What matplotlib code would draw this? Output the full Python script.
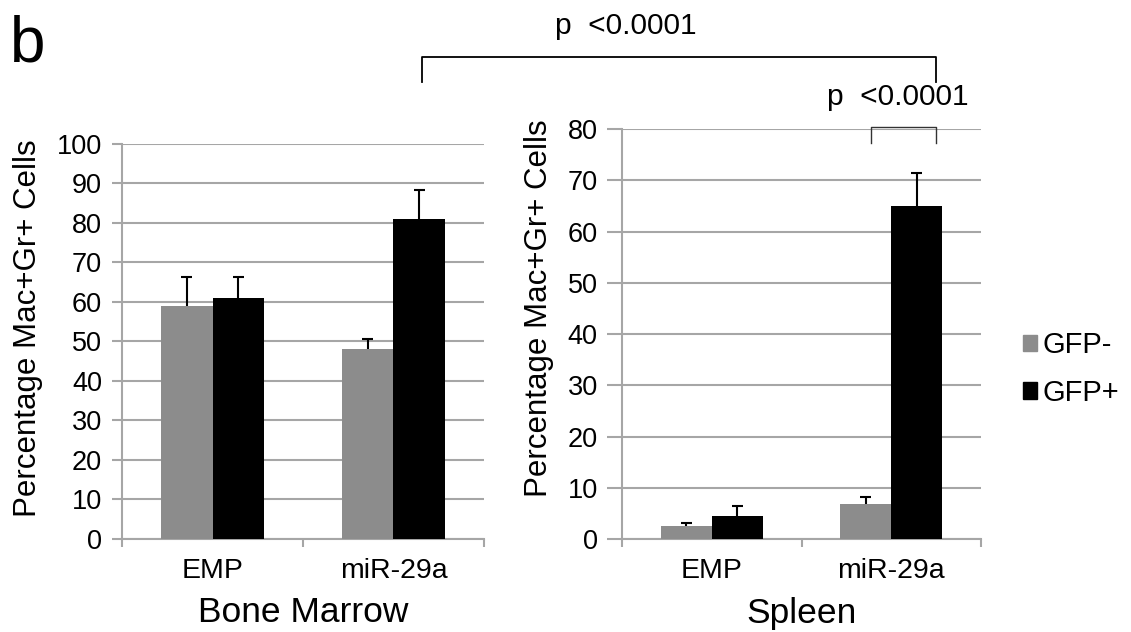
import matplotlib
matplotlib.use("Agg")
import matplotlib.pyplot as plt
from matplotlib.lines import Line2D
import numpy as np

plt.rcParams['font.family'] = ['Liberation Sans', 'DejaVu Sans']

categories = ["EMP", "miR-29a"]
series = ["GFP-", "GFP+"]
bm_gfp_neg = [59, 48]
bm_gfp_pos = [61, 81]
bm_err_neg = [7.2, 2.7]
bm_err_pos = [5.2, 7.3]
sp_gfp_neg = [2.6, 6.9]
sp_gfp_pos = [4.5, 65.0]
sp_err_neg = [0.5, 1.4]
sp_err_pos = [2.0, 6.4]
bm_yticks = list(range(0, 101, 10))
sp_yticks = list(range(0, 81, 10))
p_label = "p  <0.0001"

colors = ["#8c8c8c", "#000000"]
grid_c = "#a6a6a6"

fig = plt.figure(figsize=(11.31, 6.32), dpi=100)
ax1 = fig.add_axes([0.1079, 0.1472, 0.320, 0.625])
ax2 = fig.add_axes([0.5500, 0.1467, 0.3174, 0.649])

def panel(ax, neg, pos, eneg, epos, yticks, xlabel, ytick_len, ylab_xy):
    x = np.arange(len(categories)) + 0.5
    w = 0.285
    cw = 0.03
    for xs, vals, errs, c, lab in [(x - w/2, neg, eneg, colors[0], series[0]),
                                   (x + w/2, pos, epos, colors[1], series[1])]:
        ax.bar(xs, vals, w, color=c, zorder=3, label=lab)
        tops = np.array(vals) + np.array(errs)
        ax.vlines(xs, vals, tops, color='black', lw=1.5, zorder=4)
        ax.hlines(tops, xs - cw, xs + cw, color='black', lw=1.5, zorder=4)
    ax.set_xlim(0, len(categories))
    ax.set_ylim(0, yticks[-1])
    ax.set_yticks(yticks)
    ax.set_yticklabels([str(t) for t in yticks], fontsize=19.5)
    ax.set_xticks(np.arange(len(categories) + 1))
    ax.set_xticklabels([])
    ax.set_xticks(x, minor=True)
    ax.set_xticklabels(categories, minor=True, fontsize=20.5)
    ax.tick_params(axis='x', which='minor', length=0, pad=13.5)
    ax.tick_params(axis='x', which='major', length=6, width=1.5, color=grid_c, direction='out')
    ax.tick_params(axis='y', length=ytick_len, width=1.5, color=grid_c, pad=7)
    ax.yaxis.grid(True, color=grid_c, linewidth=1.5, zorder=0)
    ax.set_axisbelow(True)
    for s in ["top", "right"]:
        ax.spines[s].set_visible(False)
    for s in ["left", "bottom"]:
        ax.spines[s].set_color(grid_c)
        ax.spines[s].set_linewidth(1.5)
    ax.set_xlabel(xlabel, fontsize=25.5, labelpad=9)
    ax.set_ylabel("Percentage Mac+Gr+ Cells", fontsize=22.5)
    ax.yaxis.set_label_coords(*ylab_xy)

panel(ax1, bm_gfp_neg, bm_gfp_pos, bm_err_neg, bm_err_pos, bm_yticks, "Bone Marrow",
      7.5, (-0.218, 0.533))
panel(ax2, sp_gfp_neg, sp_gfp_pos, sp_err_neg, sp_err_pos, sp_yticks, "Spleen",
      10.5, (-0.1895, 0.563))

# legend
handles = [plt.Rectangle((0, 0), 1, 1, color=c) for c in colors]
fig.legend(handles, series, loc='center left', bbox_to_anchor=(0.9045, 0.416),
           frameon=False, fontsize=21, handlelength=0.48, handleheight=0.48,
           handletextpad=0.2, labelspacing=0.67, borderpad=0, borderaxespad=0)

# brackets
W, H = 1131, 632
def fx(px):
    return px / W
def fy(py):
    return 1 - py / H

fig.add_artist(Line2D([fx(422), fx(422), fx(936), fx(936)],
                      [fy(82), fy(57), fy(57), fy(82)],
                      color='black', lw=1.3, transform=fig.transFigure))
fig.text(fx(626), fy(26), p_label, ha='center', va='center', fontsize=21.5)
fig.add_artist(Line2D([fx(871), fx(871), fx(936), fx(936)],
                      [fy(143), fy(127), fy(127), fy(143)],
                      color='#333333', lw=1.0, transform=fig.transFigure))
fig.text(fx(898), fy(97), p_label, ha='center', va='center', fontsize=21.5)

fig.text(fx(10), fy(44), "b", ha='left', va='center', fontsize=46)

fig.savefig("out.png", dpi=100)
